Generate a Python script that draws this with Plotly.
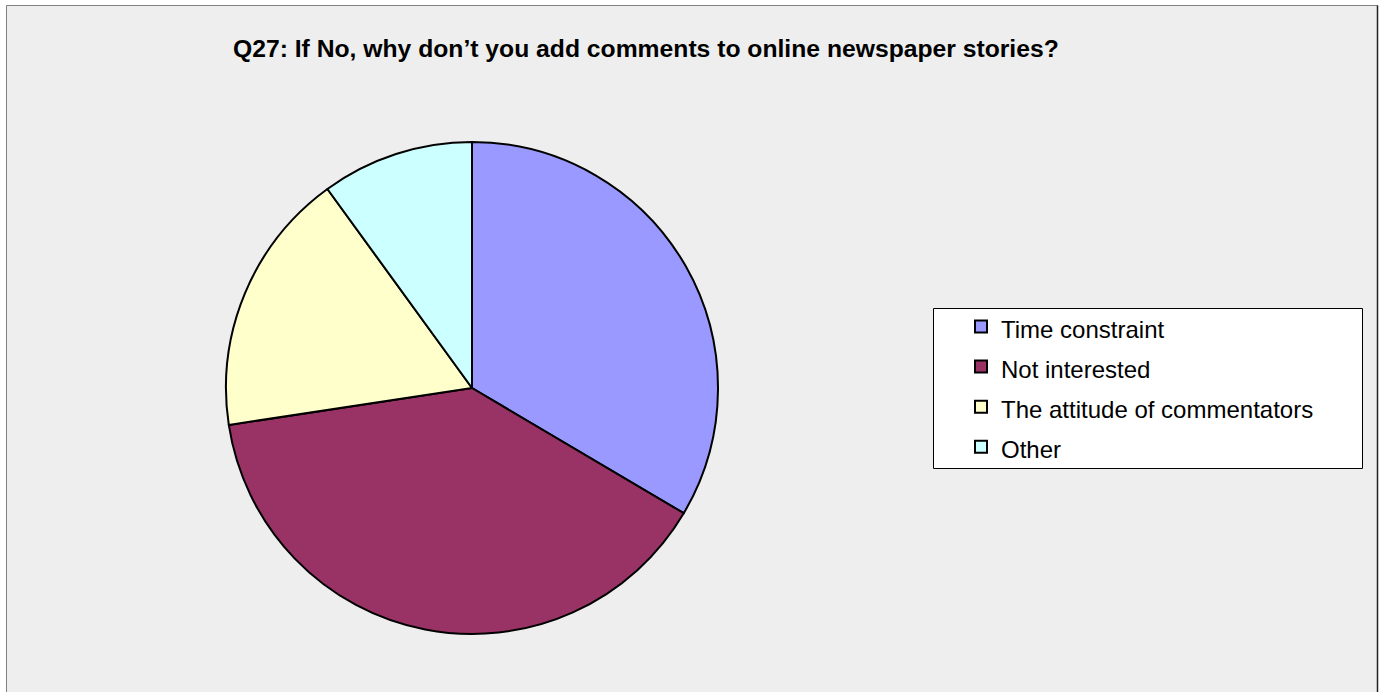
import plotly.graph_objects as go

# Survey responses (share of respondents, %)
reasons = ["Time constraint", "Not interested", "The attitude of commentators", "Other"]
shares = [33.5, 39.1, 17.4, 10.0]
slice_colors = ["#9999FF", "#993366", "#FFFFCC", "#CCFFFF"]

title_text = "Q27: If No, why don\u2019t you add comments to online newspaper stories?"

W, H = 1382, 692

# legend entries are set at 24px while the legend font is larger,
# which gives the rows more room between them
legend_labels = [f"<span style='font-size:24px'>{r}</span>" for r in reasons]

fig = go.Figure(
    go.Pie(
        labels=legend_labels,
        values=shares,
        sort=False,
        direction="clockwise",
        rotation=0,
        textinfo="none",
        hovertext=reasons,
        hoverinfo="text+percent",
        marker=dict(colors=slice_colors, line=dict(color="#000000", width=2)),
        domain=dict(x=[226 / W, 718 / W], y=[(H - 634) / H, (H - 142) / H]),
    )
)

fig.update_layout(
    width=W,
    height=H,
    margin=dict(l=0, r=0, t=0, b=0),
    paper_bgcolor="#FFFFFF",
    plot_bgcolor="#FFFFFF",
    font=dict(family="Liberation Sans, Arial, sans-serif", color="#000000"),
    showlegend=True,
    legend=dict(
        x=961 / W,
        y=1 - 387 / H,
        xanchor="left",
        yanchor="middle",
        bgcolor="rgba(0,0,0,0)",
        borderwidth=0,
        font=dict(size=28.5, color="#000000"),
    ),
    shapes=[
        # chart area background and frame
        dict(type="rect", xref="paper", yref="paper",
             x0=6.5 / W, x1=1377.5 / W, y0=-0.02, y1=1 - 5.5 / H,
             fillcolor="#EEEEEE", line=dict(color="#808080", width=1), layer="below"),
        dict(type="line", xref="paper", yref="paper",
             x0=1377.5 / W, x1=1377.5 / W, y0=-0.02, y1=1 - 5.5 / H,
             line=dict(color="#222222", width=1.5), layer="below"),
        # legend box
        dict(type="rect", xref="paper", yref="paper",
             x0=933.5 / W, x1=1362.5 / W, y0=1 - 468.5 / H, y1=1 - 308.5 / H,
             fillcolor="#FFFFFF", line=dict(color="#000000", width=1), layer="below"),
    ],
    annotations=[
        dict(text=title_text, xref="paper", yref="paper",
             x=231 / W, y=1 - 48.5 / H, xanchor="left", yanchor="middle",
             showarrow=False, font=dict(size=24.7, color="#000000",
                                        family="Liberation Sans, Arial, sans-serif",
                                        weight="bold")),
    ],
)

fig.write_html("out.html")
